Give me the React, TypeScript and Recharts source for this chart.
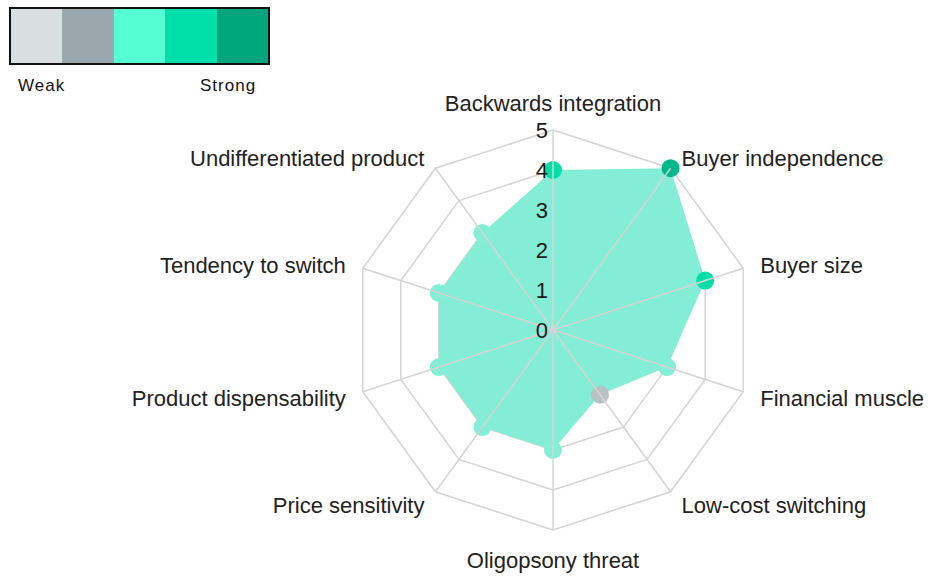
// Buyer power radar — ten factors scored 0–5, with a weak→strong colour key.

import { PolarAngleAxis, PolarGrid, PolarRadiusAxis, Radar, RadarChart } from "recharts";

const factors = [
  "Backwards integration", "Buyer independence", "Buyer size", "Financial muscle",
  "Low-cost switching", "Oligopsony threat", "Price sensitivity",
  "Product dispensability", "Tendency to switch", "Undifferentiated product",
];
const scores = [4, 5, 4, 3, 2, 3, 3, 3, 3, 3];
const scaleTicks = [0, 1, 2, 3, 4, 5];
const keyLabels = ["Weak", "Strong"];
const keyColors = ["#d9dee1", "#9aa8ae", "#55ffd3", "#00e0a8", "#00a57c"];
const dotColors = ["#e3e6e8", "#b9c0c6", "#85eed6", "#00dea8", "#00b888"];

const data = factors.map((f, i) => ({ factor: f, score: scores[i] }));

const W = 928, H = 576, CX = 553, CY = 330, R = 200;
const font = "'Liberation Sans', Arial, sans-serif";
const grid = "#d4d4d4";

function FactorTick(props: any) {
  const { x, y, payload } = props;
  const vx = x - CX, vy = y - CY;
  const len = Math.hypot(vx, vy) || 1;
  const ux = vx / len, uy = vy / len;
  const px = CX + R * ux, py = CY + R * uy;
  let anchor = "middle", lx = px, ly = py;
  if (Math.abs(ux) < 0.2) {
    ly = py + (uy < 0 ? -27 : 30);
  } else {
    anchor = ux > 0 ? "start" : "end";
    lx = px + Math.sign(ux) * (Math.abs(ux) > 0.9 ? 17 : 11);
    ly = py + 2 + 15 * uy;
  }
  return (
    <text x={lx} y={ly} textAnchor={anchor} dominantBaseline="central"
          fontSize={22} fontFamily={font} fill="#222">
      {payload.value}
    </text>
  );
}

function ScaleTick(props: any) {
  const { x, y, payload } = props;
  return (
    <text x={x - 5} y={y} textAnchor="end" dominantBaseline="central"
          fontSize={22} fontFamily={font} fill="#1a1a1a">
      {payload.value}
    </text>
  );
}

export default function App() {
  return (
    <div style={{ position: "absolute", left: 0, top: 0, width: W, height: H, background: "#fff", fontFamily: font }}>
      <div style={{ position: "absolute", left: 9, top: 7, width: 257, height: 54, border: "2px solid #111", display: "flex" }}>
        {keyColors.map((c) => (
          <div key={c} style={{ flex: 1, background: c }} />
        ))}
      </div>
      <div style={{ position: "absolute", left: 18, top: 76, fontSize: 17, letterSpacing: 1, color: "#111" }}>{keyLabels[0]}</div>
      <div style={{ position: "absolute", left: 200, top: 76, fontSize: 17, letterSpacing: 1, color: "#111" }}>{keyLabels[1]}</div>

      <RadarChart width={W} height={H} data={data} cx={CX} cy={CY} outerRadius={R}
                  margin={{ top: 0, right: 0, bottom: 0, left: 0 }}>
        <PolarGrid gridType="polygon" radialLines={false} stroke={grid} strokeWidth={1.5} />
        <PolarAngleAxis dataKey="factor" tick={FactorTick} tickLine={false} axisLine={false} tickSize={0} />
        <Radar isAnimationActive={false} dataKey="score" fill="#83edd5" fillOpacity={1} stroke="none"
               dot={(p: any) => (
                 <circle key={`d${p.index}`} cx={p.cx} cy={p.cy} r={9}
                         fill={dotColors[Math.round(p.payload.score) - 1]} />
               )} />
        <PolarGrid gridType="polygon" polarRadius={[]} stroke={grid} strokeWidth={1.5} zIndex={700} />
        <PolarRadiusAxis angle={90} domain={[0, 5]} ticks={scaleTicks as any} tickCount={6}
                         axisLine={false} tickLine={false} tick={ScaleTick} zIndex={800} />
      </RadarChart>
    </div>
  );
}
